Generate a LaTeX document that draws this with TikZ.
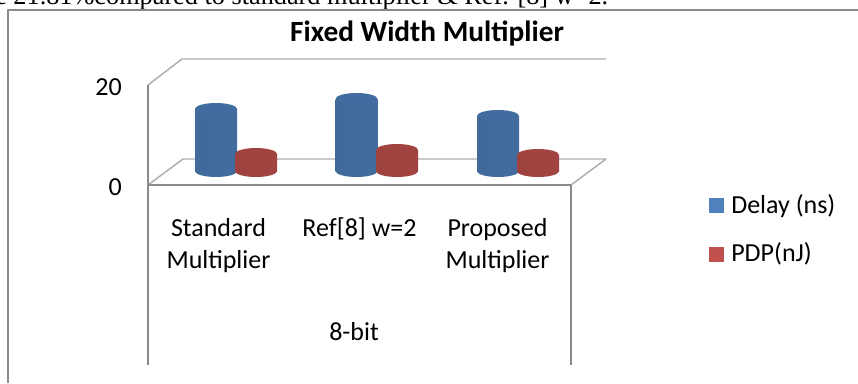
\documentclass[tikz,border=0pt]{standalone}
\usepackage{fontspec}
\setmainfont{Carlito}
\newfontfamily\timesfont{Liberation Serif}
\definecolor{cblue}{HTML}{4F81BD}
\definecolor{cred}{HTML}{C0504D}
\definecolor{cgrey}{HTML}{8A8A8A}
\tikzset{
  every picture/.style={font=\fontsize{19.5}{24}\selectfont, line join=round},
  title/.style={font=\fontsize{22}{26}\selectfont\bfseries, anchor=base, inner sep=0pt},
  axis/.style={draw=cgrey, line width=1.5pt},
  wall/.style={draw=cgrey!70, line width=1.1pt},
  lbl/.style={align=center, inner sep=0pt},
  tick/.style={anchor=base east, inner sep=0pt},
  key/.style={fill=#1, minimum size=11.25pt, inner sep=0pt},
}

\begin{document}
\begin{tikzpicture}[x=0.75pt, y=-0.75pt,
  side/.style={left color=#1!82!black, middle color=#1!92!white, right color=#1!84!black},
  lid/.style={fill=#1!84!black}]
  \useasboundingbox (0,0) rectangle (858,383);
  \node[anchor=base west, inner sep=0pt, font=\timesfont\fontsize{19.7}{24}\selectfont] (cut) at (-5,4) {e 21.81\%compared to standard multiplier \& Ref. [8] w=2.};
  \draw[axis] (8,383) |- (858,10);
  \node[title] (title) at (427,41) {Fixed Width Multiplier};
  \draw[wall] (148,85) -- (182,59) -- (606,59);
  \draw[wall] (148,185) -- (183,159) -- (606,159) -- (571,185);
  \draw[axis] (148,85) -- (148,365);
  \draw[axis] (148,185) -- (571,185) -- (571,365);
  \foreach \x/\t/\c in {216/109/cblue, 256/154/cred, 356.5/99/cblue, 397/150/cred, 498/116/cblue, 538/155/cred} {
    \path[side=\c] (\x,171) ellipse [x radius=21, y radius=6];
    \path[side=\c] (\x-21,\t) rectangle (\x+21,171);
    \path[lid=\c] (\x,\t) ellipse [x radius=21, y radius=6];
  }
  \node[tick] (t20) at (122,95) {20};
  \node[tick] (t0) at (122,195) {0};
  \foreach \n/\x/\y/\lab in {std/218.5/268/{Standard\\Multiplier}, ref/359.5/236/{Ref[8] w=2}, prop/497.5/268/{Proposed\\Multiplier}}
    \node[lbl, anchor=base] (\n) at (\x,\y) {\lab};
  \node[lbl, anchor=base] (grp) at (354,340) {8-bit};
  \node[key=cblue] (kdelay) at (716.5,205.5) {};
  \node[anchor=base west, inner sep=0pt] (ldelay) at (731,213) {Delay (ns)};
  \node[key=cred] (kpdp) at (716.5,254) {};
  \node[anchor=base west, inner sep=0pt] (lpdp) at (731,261) {PDP(nJ)};
\end{tikzpicture}
\end{document}
